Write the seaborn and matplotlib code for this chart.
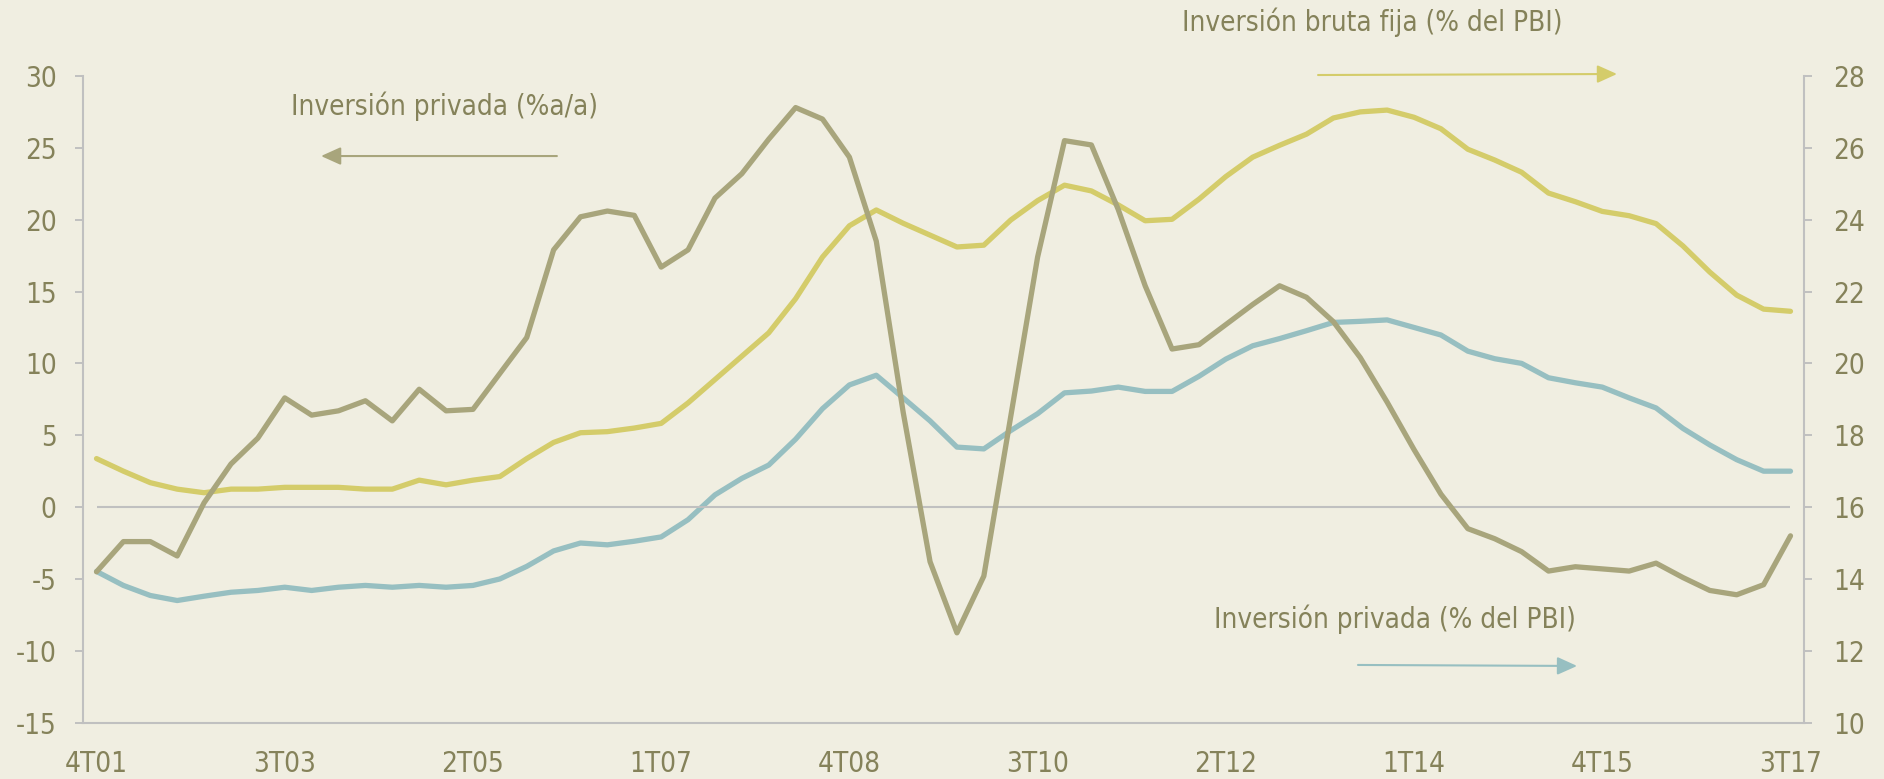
import numpy as np
import pandas as pd
import matplotlib
matplotlib.use("Agg")
import matplotlib.pyplot as plt
import seaborn as sns
from matplotlib import font_manager

# quarterly labels 4T01 .. 3T17
quarters = []
for year in range(2001, 2018):
    for q in range(1, 5):
        if (year, q) < (2001, 4) or (year, q) > (2017, 3):
            continue
        quarters.append(f"{q}T{year % 100:02d}")

# Inversion privada (%a/a) -> left axis
privada_aa = [
    -4.5, -2.4, -2.4, -3.4, 0.3, 3.0, 4.8, 7.6, 6.4, 6.7, 7.4, 6.0, 8.2, 6.7, 6.8, 9.3,
    11.8, 17.9, 20.2, 20.6, 20.3, 16.7, 17.9, 21.5, 23.2, 25.6, 27.8, 27.0, 24.35, 18.5, 6.6, -3.8,
    -8.75, -4.8, 6.3, 17.4, 25.5, 25.2, 20.7, 15.4, 11.0, 11.3, 12.7, 14.1, 15.4, 14.6, 12.9, 10.4,
    7.3, 4.0, 0.9, -1.5, -2.2, -3.1, -4.45, -4.15, -4.3, -4.45, -3.9, -4.9, -5.8, -6.1, -5.4, -2.0,
]

# Inversion bruta fija (% del PBI) -> right axis
bruta_fija_pbi = [
    17.35, 17.0, 16.68, 16.5, 16.4, 16.5, 16.5, 16.55, 16.55, 16.55, 16.5, 16.5, 16.75, 16.62, 16.75, 16.85,
    17.35, 17.8, 18.07, 18.1, 18.2, 18.33, 18.9, 19.55, 20.2, 20.85, 21.8, 22.96, 23.83, 24.27, 23.9, 23.57,
    23.24, 23.29, 23.99, 24.53, 24.96, 24.8, 24.41, 23.97, 24.01, 24.57, 25.2, 25.74, 26.07, 26.38, 26.83, 27.0,
    27.05, 26.85, 26.53, 25.96, 25.66, 25.32, 24.74, 24.5, 24.23, 24.11, 23.89, 23.27, 22.54, 21.9, 21.51, 21.45,
]

# Inversion privada (% del PBI) -> right axis
privada_pbi = [
    14.21, 13.82, 13.54, 13.4, 13.52, 13.63, 13.68, 13.77, 13.68, 13.77, 13.82, 13.77, 13.82, 13.77, 13.82, 14.0,
    14.35, 14.78, 15.0, 14.95, 15.05, 15.17, 15.65, 16.34, 16.8, 17.17, 17.89, 18.74, 19.4, 19.67, 19.04, 18.4,
    17.67, 17.62, 18.13, 18.6, 19.18, 19.23, 19.34, 19.22, 19.22, 19.64, 20.12, 20.49, 20.69, 20.91, 21.14, 21.17,
    21.21, 21.0, 20.79, 20.34, 20.13, 20.0, 19.6, 19.46, 19.34, 19.04, 18.76, 18.19, 17.73, 17.32, 17.0, 17.0,
]

left_ticks = list(range(-15, 31, 5))
right_ticks = list(range(10, 29, 2))

df = pd.DataFrame({
    "pos": np.arange(len(quarters)),
    "trimestre": quarters,
    "privada_aa": privada_aa,
    "bruta_fija_pbi": bruta_fija_pbi,
    "privada_pbi": privada_pbi,
})

BG = "#F0EEE1"
OLIVE = "#A8A57C"
YELLOW = "#D4CC6A"
TEAL = "#97BFC1"
TXT = "#85825A"
GRID = "#C0C0C0"

sns.set_theme(style="white")
names = {f.name for f in font_manager.fontManager.ttflist}
if "Liberation Sans Narrow" in names:
    plt.rcParams["font.family"] = ["Liberation Sans Narrow", "DejaVu Sans"]
else:
    plt.rcParams["font.family"] = ["DejaVu Sans"]
    plt.rcParams["font.stretch"] = "condensed"
plt.rcParams["axes.unicode_minus"] = False

fig = plt.figure(figsize=(18.84, 7.79), dpi=100, facecolor=BG)
ax = fig.add_axes([0.0441, 0.0723, 0.9134, 0.8302])
ax2 = ax.twinx()

# olive line on top of the twin axis
ax.set_zorder(ax2.get_zorder() + 1)
ax.patch.set_visible(False)
ax2.patch.set_facecolor(BG)

ax.hlines(0, df["pos"].iloc[0], df["pos"].iloc[-1], color=GRID, lw=1.5, zorder=1)

sns.lineplot(data=df, x="pos", y="bruta_fija_pbi", ax=ax2, color=YELLOW, lw=3.8, zorder=3)
sns.lineplot(data=df, x="pos", y="privada_pbi", ax=ax2, color=TEAL, lw=3.8, zorder=2)
sns.lineplot(data=df, x="pos", y="privada_aa", ax=ax, color=OLIVE, lw=3.8, zorder=4)

ax.set_xlim(-0.5, len(quarters) - 0.5)
ax.set_ylim(-15, 30)
ax2.set_ylim(10, 28)
ax.set_yticks(left_ticks)
ax2.set_yticks(right_ticks)
ax.set_xlabel("")
ax.set_ylabel("")
ax2.set_xlabel("")
ax2.set_ylabel("")

# tick marks on category boundaries, labels on every 7th quarter
step = 7
ax.set_xticks(np.arange(0, len(quarters), step) - 0.5)
ax.set_xticklabels([])
ax.set_xticks(np.arange(0, len(quarters), step), minor=True)
ax.set_xticklabels(quarters[::step], minor=True)
ax.tick_params(axis="x", which="major", length=6, width=1.4, color=GRID, direction="out")
ax.tick_params(axis="x", which="minor", length=0, pad=20, labelsize=20, labelcolor=TXT)
ax.tick_params(axis="y", length=6, width=1.4, color=GRID, direction="out", pad=13,
               labelsize=20, labelcolor=TXT)
ax2.tick_params(axis="y", length=6, width=1.4, color=GRID, direction="out", pad=15,
                labelsize=20, labelcolor=TXT)

for a in (ax, ax2):
    a.spines["top"].set_visible(False)
    for side in ("left", "right", "bottom"):
        a.spines[side].set_color(GRID)
        a.spines[side].set_linewidth(1.5)
ax.spines["right"].set_visible(False)
ax2.spines["left"].set_visible(False)
ax2.spines["bottom"].set_visible(False)

# series labels with arrows pointing to their axis
arrow_style = "-|>,head_length=1.0,head_width=0.45"

fig.text(0.2357, 0.864, "Inversión privada (%a/a)", ha="center", va="center",
         fontsize=20, color=TXT)
ax.annotate("", xy=(0.1704, 0.7997), xytext=(0.2956, 0.7997), xycoords="figure fraction",
            textcoords="figure fraction",
            arrowprops=dict(arrowstyle=arrow_style, mutation_scale=12,
                            color=OLIVE, lw=1.5, shrinkA=0, shrinkB=0))

fig.text(0.7282, 0.9718, "Inversión bruta fija (% del PBI)", ha="center", va="center",
         fontsize=20, color=TXT)
ax.annotate("", xy=(0.8583, 0.905), xytext=(0.6996, 0.9037), xycoords="figure fraction",
            textcoords="figure fraction",
            arrowprops=dict(arrowstyle=arrow_style, mutation_scale=12,
                            color=YELLOW, lw=1.5, shrinkA=0, shrinkB=0))

fig.text(0.7402, 0.2054, "Inversión privada (% del PBI)", ha="center", va="center",
         fontsize=20, color=TXT)
ax.annotate("", xy=(0.8371, 0.1451), xytext=(0.7208, 0.1464), xycoords="figure fraction",
            textcoords="figure fraction",
            arrowprops=dict(arrowstyle=arrow_style, mutation_scale=12,
                            color=TEAL, lw=1.5, shrinkA=0, shrinkB=0))

fig.savefig("out.png", dpi=100, facecolor=BG)
